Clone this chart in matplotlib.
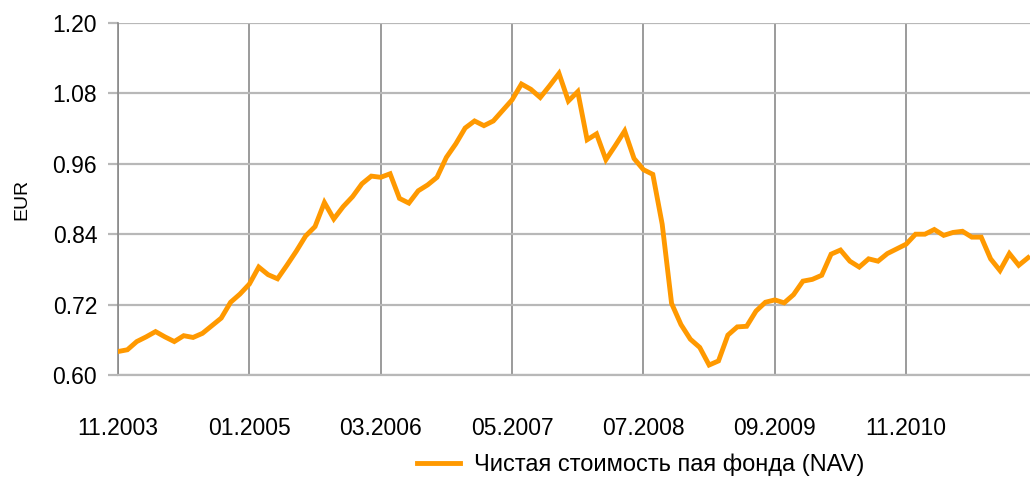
import matplotlib
matplotlib.use('Agg')
import matplotlib.pyplot as plt

# NAV per unit, monthly, 11.2003 - 12.2011
nav = [
    0.640, 0.643,
    0.657, 0.665, 0.674, 0.665, 0.657, 0.667, 0.664, 0.671, 0.684, 0.697, 0.724, 0.738,
    0.755, 0.784, 0.771, 0.764, 0.787, 0.811, 0.837, 0.853, 0.894, 0.866, 0.887, 0.904,
    0.926, 0.939, 0.937, 0.943, 0.901, 0.893, 0.914, 0.924, 0.937, 0.971, 0.994, 1.021,
    1.033, 1.025, 1.033, 1.051, 1.069, 1.096, 1.087, 1.073, 1.093, 1.114, 1.067, 1.083,
    1.001, 1.011, 0.967, 0.991, 1.016, 0.969, 0.950, 0.942, 0.857, 0.722, 0.686, 0.661,
    0.647, 0.617, 0.624, 0.668, 0.682, 0.683, 0.709, 0.724, 0.728, 0.723, 0.737, 0.760,
    0.763, 0.770, 0.806, 0.813, 0.794, 0.784, 0.798, 0.794, 0.807, 0.815, 0.823, 0.840,
    0.840, 0.848, 0.838, 0.843, 0.845, 0.835, 0.835, 0.798, 0.778, 0.807, 0.787, 0.800,
]
months = list(range(len(nav)))

tick_pos = [0, 14, 28, 42, 56, 70, 84]
tick_labels = ['11.2003', '01.2005', '03.2006', '05.2007', '07.2008', '09.2009', '11.2010']
y_ticks = [0.60, 0.72, 0.84, 0.96, 1.08, 1.20]

plt.rcParams['font.family'] = ['Liberation Sans', 'DejaVu Sans']

fig = plt.figure(figsize=(10.30, 4.78), dpi=100)
ax = fig.add_axes([118 / 1030, 1 - 375 / 478, 1 - 118 / 1030, (375 - 23) / 478])

ax.plot(months, nav, color='#FF9900', lw=3.5, solid_joinstyle='miter',
        label='Чистая стоимость пая фонда (NAV)', zorder=3)

ax.set_xlim(0, 97.2)
ax.set_ylim(0.60, 1.20)
ax.set_yticks(y_ticks)
ax.set_yticklabels(['%.2f' % v for v in y_ticks])
ax.set_xticks(tick_pos)
ax.set_xticklabels(tick_labels)

ax.grid(axis='y', color='#b8b8b8', lw=1.6, zorder=1)
ax.grid(axis='x', color='#8a8a8a', lw=1.2, zorder=1)

for s in ['top', 'right']:
    ax.spines[s].set_visible(False)
ax.spines['left'].set_color('#8a8a8a')
ax.spines['left'].set_linewidth(1.2)
ax.spines['bottom'].set_color('#b8b8b8')
ax.spines['bottom'].set_linewidth(1.6)

ax.tick_params(axis='y', length=7, width=1.6, color='#b8b8b8', labelsize=16.5, pad=8)
ax.tick_params(axis='x', length=0, labelsize=16.5, pad=30)
ax.set_ylabel('EUR', fontsize=14, labelpad=16)

fig.legend(loc='center', bbox_to_anchor=(0.622, 0.027), frameon=False,
           fontsize=17, handlelength=1.8, handletextpad=0.6)

fig.savefig('out.png', dpi=100)
